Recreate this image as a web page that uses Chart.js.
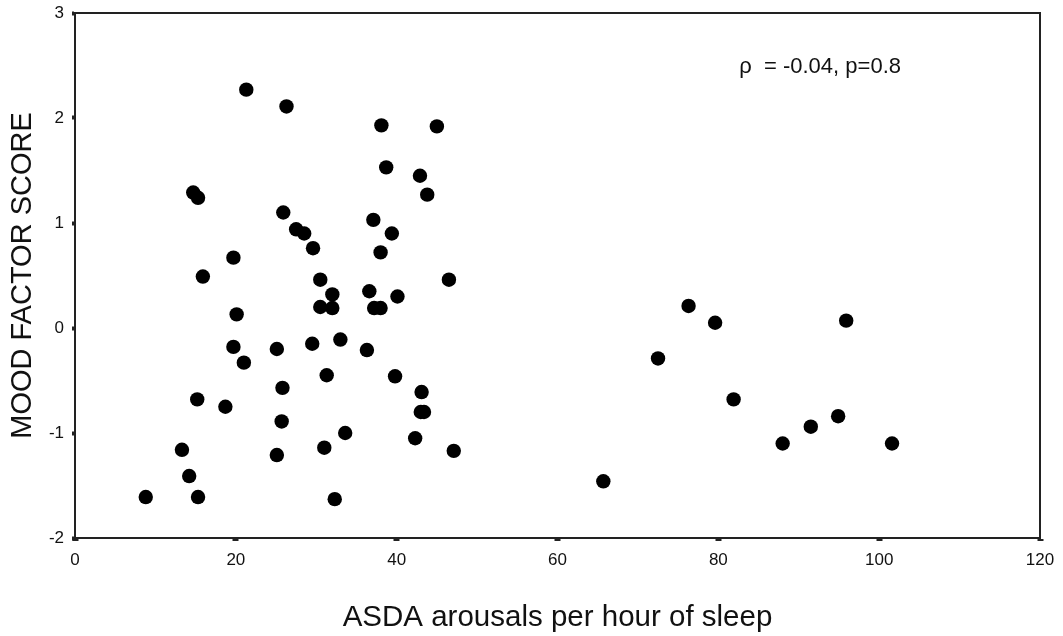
<!DOCTYPE html>
<html>
<head>
<meta charset="utf-8">
<title>Mood factor score vs ASDA arousals</title>
<script src="https://cdn.jsdelivr.net/npm/chart.js@4.4.1/dist/chart.umd.min.js"></script>
<style>
    html, body { margin: 0; padding: 0; background: #fff; }
    #wrap { width: 1063px; height: 636px; }
</style>
</head>
<body>
<div id="wrap"><canvas id="scatter" width="1063" height="636"></canvas></div>
<script>
// ASDA arousals per hour of sleep (x) and mood factor score (y), one entry per subject
const asdaRate = [
    8.8, 13.3, 14.2, 14.7, 15.3, 15.2, 15.3, 15.9, 18.7, 19.7,
    19.7, 20.1, 21.0, 21.3, 25.1, 25.1, 25.7, 25.8, 25.9, 26.3,
    27.5, 28.5, 29.5, 29.6, 30.5, 30.5, 31.0, 31.3, 32.0, 32.0,
    32.3, 33.0, 33.6, 36.3, 36.6, 37.1, 37.2, 38.0, 38.0, 38.1,
    38.7, 39.4, 39.8, 40.1, 42.3, 42.9, 43.1, 43.0, 43.4, 43.8,
    45.0, 46.5, 47.1, 65.7, 72.5, 76.3, 79.6, 81.9, 88.0, 91.5,
    94.9, 95.9, 101.6
];
const moodScore = [
    -1.61, -1.16, -1.41, 1.29, 1.24, -0.68, -1.61, 0.49, -0.75, 0.67,
    -0.18, 0.13, -0.33, 2.27, -0.20, -1.21, -0.89, -0.57, 1.10, 2.11,
    0.94, 0.90, -0.15, 0.76, 0.46, 0.20, -1.14, -0.45, 0.32, 0.19,
    -1.63, -0.11, -1.00, -0.21, 0.35, 1.03, 0.19, 0.19, 0.72, 1.93,
    1.53, 0.90, -0.46, 0.30, -1.05, 1.45, -0.61, -0.80, -0.80, 1.27,
    1.92, 0.46, -1.17, -1.46, -0.29, 0.21, 0.05, -0.68, -1.10, -0.94,
    -0.84, 0.07, -1.10
];

// axis ranges and tick spacing
const xRange = [0, 120];
const xStep = 20;
const yRange = [-2, 3];
const yStep = 1;

// correlation note, anchored in data units
const statText = 'ρ  = -0.04, p=0.8';
const statAt = [82.6, 2.43];

const FONT = "'Liberation Sans', Arial, sans-serif";
const INK = '#111';

const points = asdaRate.map((v, i) => ({ x: v, y: moodScore[i] }));

// closes the box on the top and right side and writes the stats line
const frameAndNote = {
    id: 'frameAndNote',
    afterDraw(chart) {
        const { ctx, chartArea: a, scales } = chart;
        ctx.save();
        ctx.strokeStyle = '#222';
        ctx.lineWidth = 2;
        ctx.beginPath();
        ctx.moveTo(a.left, a.top);
        ctx.lineTo(a.right, a.top);
        ctx.lineTo(a.right, a.bottom);
        ctx.stroke();

        ctx.fillStyle = INK;
        ctx.font = '22px ' + FONT;
        ctx.textBaseline = 'alphabetic';
        ctx.textAlign = 'left';
        ctx.fillText(statText, scales.x.getPixelForValue(statAt[0]), scales.y.getPixelForValue(statAt[1]));
        ctx.restore();
    }
};

new Chart(document.getElementById('scatter'), {
    type: 'scatter',
    data: {
        datasets: [{
            data: points,
            backgroundColor: '#000',
            borderColor: '#000',
            borderWidth: 0,
            pointRadius: 7.2,
            pointHoverRadius: 7.2
        }]
    },
    options: {
        responsive: false,
        animation: false,
        events: [],
        layout: { padding: { top: 13, right: 23, left: 0, bottom: 0 } },
        plugins: {
            legend: { display: false },
            tooltip: { enabled: false }
        },
        scales: {
            x: {
                type: 'linear',
                min: xRange[0],
                max: xRange[1],
                afterFit(scale) {
                    scale.height = 98;
                    scale.paddingLeft = 0;
                    scale.paddingRight = 0;
                },
                ticks: {
                    stepSize: xStep,
                    color: INK,
                    padding: 9,
                    font: { family: FONT, size: 17 }
                },
                grid: {
                    drawOnChartArea: false,
                    drawTicks: true,
                    tickLength: 3,
                    tickWidth: 6,
                    tickColor: '#222'
                },
                border: { color: '#222', width: 2 },
                title: {
                    display: true,
                    text: 'ASDA arousals per hour of sleep',
                    color: INK,
                    padding: { bottom: 0 },
                    font: { family: FONT, size: 29.5 }
                }
            },
            y: {
                type: 'linear',
                min: yRange[0],
                max: yRange[1],
                afterFit(scale) {
                    scale.width = 75;
                    scale.paddingTop = 0;
                    scale.paddingBottom = 0;
                },
                ticks: {
                    stepSize: yStep,
                    color: INK,
                    padding: 8,
                    font: { family: FONT, size: 17 }
                },
                grid: {
                    drawOnChartArea: false,
                    drawTicks: true,
                    tickLength: 3,
                    tickWidth: 4,
                    tickColor: '#222'
                },
                border: { color: '#222', width: 2 },
                title: {
                    display: true,
                    text: 'MOOD FACTOR SCORE',
                    color: INK,
                    padding: { top: 6 },
                    font: { family: FONT, size: 29 }
                }
            }
        }
    },
    plugins: [frameAndNote]
});
</script>
</body>
</html>
